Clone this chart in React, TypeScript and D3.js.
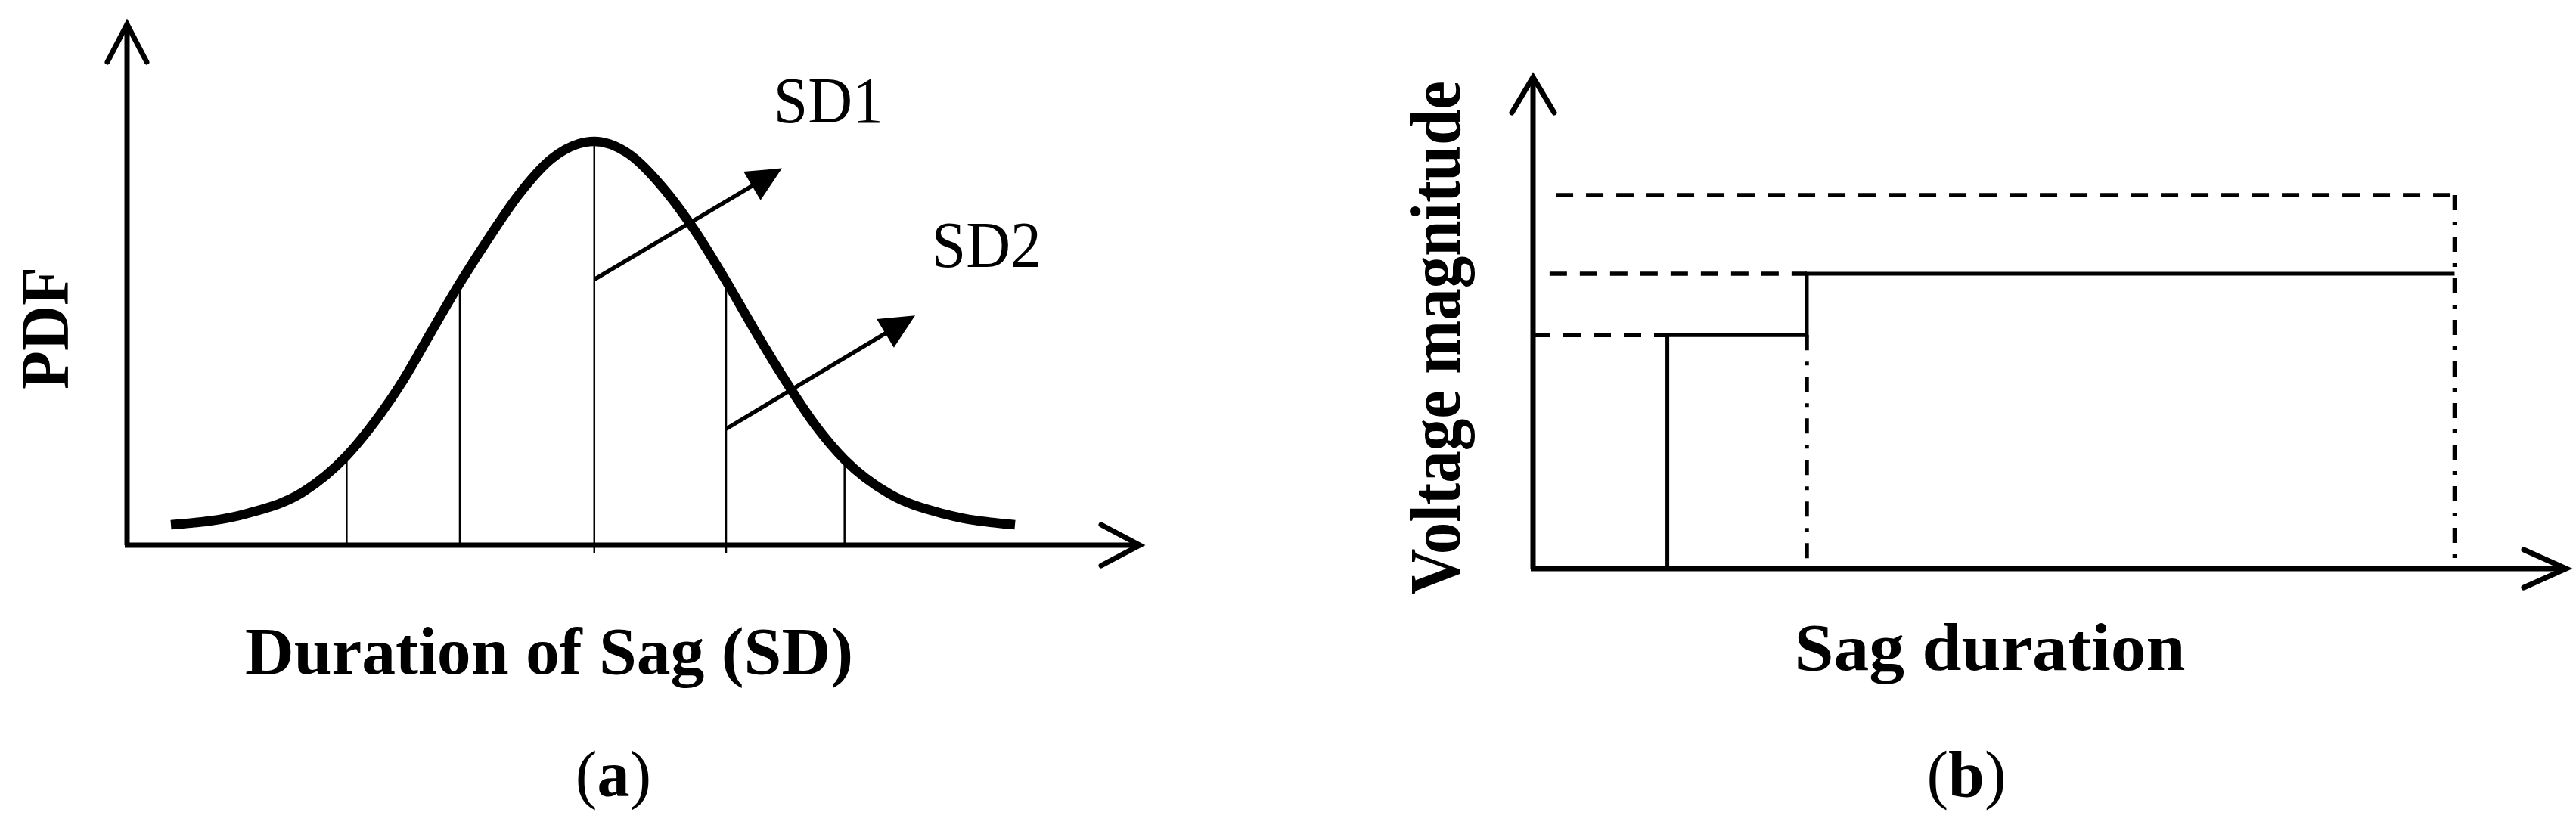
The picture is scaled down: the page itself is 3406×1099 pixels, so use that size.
import {useEffect, useRef} from 'react'
import * as d3 from 'd3'

// (a) bell curve of sag duration, x in SD units from the mean, y as share of the peak
const curveX = [-3.18, -2.6, -2.19, -1.86, -1.69, -1.43, -1.23, -1.01, -0.77, -0.57, -0.32, 0, 0.24, 0.55, 0.75, 1.0, 1.2, 1.41, 1.66, 1.88, 2.22, 2.63, 3.16]
const pdfValues = [0, 0.03, 0.085, 0.18, 0.25, 0.38, 0.5, 0.63, 0.76, 0.86, 0.955, 1, 0.972, 0.865, 0.77, 0.63, 0.51, 0.39, 0.26, 0.17, 0.08, 0.028, 0]

// vertical class boundaries under the curve
const boundaryX = [-1.86, -1.01, 0, 0.99, 1.88]
const boundaryTop = [0.18, 0.63, 1, 0.63, 0.17]
const boundaryBelow = [false, false, true, true, false]

// SD arrows: start, tip, label position
const sdLabels = ['SD1', 'SD2']
const sdFrom = [[0, 0.64], [0.99, 0.25]]
const sdTo = [[1.41, 0.93], [2.41, 0.546]]
const sdText = [[1.347, 1.049], [2.534, 0.673]]

// (b) step of voltage magnitude against sag duration
const durations = [0.13, 0.265, 0.892]
const magnitudes = [0.475, 0.6, 0.76]
const guideStart = [0, 0.016, 0.022]

const W = 3406
const H = 1099
const FONT = '"Liberation Serif", "Times New Roman", serif'

function App(){
    const svg = useRef(null)

    useEffect(() => {
        const svgRef = d3.select(svg.current)
        svgRef.selectAll('*').remove()

        svgRef.append('rect').attr('width', W).attr('height', H).attr('fill', 'white')

        //Open chevron arrowhead for the axes
        const chevron = (g, tip, dir, len, half) => {
            const [tx, ty] = tip
            const [dx, dy] = dir
            const px = -dy, py = dx
            const p = d3.path()
            p.moveTo(tx - dx * len + px * half, ty - dy * len + py * half)
            p.lineTo(tx, ty)
            p.lineTo(tx - dx * len - px * half, ty - dy * len - py * half)
            g.append('path')
                .attr('d', p.toString())
                .attr('fill', 'none')
                .attr('stroke', 'black')
                .attr('stroke-width', 7)
                .attr('stroke-linecap', 'round')
                .attr('stroke-linejoin', 'miter')
        }

        const axes = (g, ox, oy, yTip, xTip, yHead, xHead) => {
            g.append('line').attr('x1', ox).attr('y1', oy).attr('x2', ox).attr('y2', yTip + 3)
                .attr('stroke', 'black').attr('stroke-width', 7)
            g.append('line').attr('x1', ox - 3).attr('y1', oy).attr('x2', xTip - 3).attr('y2', oy)
                .attr('stroke', 'black').attr('stroke-width', 7)
            chevron(g, [ox, yTip], [0, -1], yHead[0], yHead[1])
            chevron(g, [xTip, oy], [1, 0], xHead[0], xHead[1])
        }

        // ---------- panel (a) ----------
        const xA = d3.scaleLinear().domain([-3.18, 3.16]).range([226, 1342])
        const yA = d3.scaleLinear().domain([0, 1]).range([694, 187])
        const gA = svgRef.append('g')
        const axisYA = 721

        //Boundary lines
        boundaryX.forEach((bx, i) => {
            gA.append('line')
                .attr('x1', xA(bx)).attr('x2', xA(bx))
                .attr('y1', boundaryBelow[i] ? axisYA + 10 : axisYA)
                .attr('y2', yA(boundaryTop[i]))
                .attr('stroke', 'black')
                .attr('stroke-width', 2.5)
        })

        axes(gA, 168, axisYA, 32, 1507, [50, 26], [51, 27])

        //Bell curve
        const line = d3.line()
            .x((d, i) => xA(curveX[i]))
            .y(d => yA(d))
            .curve(d3.curveMonotoneX)
        gA.append('path')
            .attr('d', line(pdfValues))
            .attr('fill', 'none')
            .attr('stroke', 'black')
            .attr('stroke-width', 12.5)
            .attr('stroke-linejoin', 'round')

        //SD arrows with filled heads
        sdLabels.forEach((label, i) => {
            const x1 = xA(sdFrom[i][0]), y1 = yA(sdFrom[i][1])
            const x2 = xA(sdTo[i][0]), y2 = yA(sdTo[i][1])
            const ang = Math.atan2(y2 - y1, x2 - x1)
            const headLen = 46, headHalf = 22
            const bx = x2 - Math.cos(ang) * headLen
            const by = y2 - Math.sin(ang) * headLen
            gA.append('line')
                .attr('x1', x1).attr('y1', y1)
                .attr('x2', bx + Math.cos(ang) * 4).attr('y2', by + Math.sin(ang) * 4)
                .attr('stroke', 'black').attr('stroke-width', 5.5)
            const nx = -Math.sin(ang), ny = Math.cos(ang)
            gA.append('polygon')
                .attr('points', [[x2, y2], [bx + nx * headHalf, by + ny * headHalf], [bx - nx * headHalf, by - ny * headHalf]].map(p => p.join(',')).join(' '))
                .attr('fill', 'black')
            gA.append('text')
                .attr('x', xA(sdText[i][0]))
                .attr('y', yA(sdText[i][1]))
                .attr('font-family', FONT)
                .attr('font-size', 86)
                .attr('textLength', 145)
                .attr('lengthAdjust', 'spacingAndGlyphs')
                .text(label)
        })

        //Axis titles
        gA.append('text')
            .attr('transform', 'translate(90,434) rotate(-90)')
            .attr('text-anchor', 'middle')
            .attr('font-family', FONT)
            .attr('font-weight', 'bold')
            .attr('font-size', 90)
            .attr('textLength', 162)
            .attr('lengthAdjust', 'spacingAndGlyphs')
            .text('PDF')
        gA.append('text')
            .attr('x', 726).attr('y', 891)
            .attr('text-anchor', 'middle')
            .attr('font-family', FONT)
            .attr('font-weight', 'bold')
            .attr('font-size', 88)
            .attr('textLength', 804)
            .attr('lengthAdjust', 'spacingAndGlyphs')
            .text('Duration of Sag (SD)')

        // ---------- panel (b) ----------
        const xB = d3.scaleLinear().domain([0, 1]).range([2027, 3393])
        const yB = d3.scaleLinear().domain([0, 1]).range([752, 102])
        const gB = svgRef.append('g')

        //Dashed guides to the magnitude axis
        const guideEnd = [durations[0], durations[1], durations[2]]
        magnitudes.forEach((m, i) => {
            gB.append('line')
                .attr('x1', xB(guideStart[i])).attr('x2', xB(guideEnd[i]))
                .attr('y1', yB(m)).attr('y2', yB(m))
                .attr('stroke', 'black').attr('stroke-width', 5.5)
                .attr('stroke-dasharray', '23,17')
        })

        //Dash-dot drops to the duration axis
        const drops = [[durations[1], magnitudes[0]], [durations[2], magnitudes[2]]]
        drops.forEach(([dx, m]) => {
            gB.append('line')
                .attr('x1', xB(dx)).attr('x2', xB(dx))
                .attr('y1', yB(m)).attr('y2', yB(0))
                .attr('stroke', 'black').attr('stroke-width', 5.5)
                .attr('stroke-dasharray', '20,15,5,15')
        })

        //Solid step
        const steps = [
            [durations[0], 0],
            [durations[0], magnitudes[0]],
            [durations[1], magnitudes[0]],
            [durations[1], magnitudes[1]],
            [durations[2], magnitudes[1]],
        ]
        gB.append('path')
            .attr('d', d3.line().x(d => xB(d[0])).y(d => yB(d[1]))(steps))
            .attr('fill', 'none')
            .attr('stroke', 'black')
            .attr('stroke-width', 5)
            .attr('stroke-linejoin', 'miter')

        axes(gB, xB(0), yB(0), yB(1), xB(1), [47, 28], [56, 25])

        gB.append('text')
            .attr('transform', 'translate(1930,447) rotate(-90)')
            .attr('text-anchor', 'middle')
            .attr('font-family', FONT)
            .attr('font-weight', 'bold')
            .attr('font-size', 95)
            .attr('textLength', 680)
            .attr('lengthAdjust', 'spacingAndGlyphs')
            .text('Voltage magnitude')
        gB.append('text')
            .attr('x', 2631).attr('y', 886)
            .attr('text-anchor', 'middle')
            .attr('font-family', FONT)
            .attr('font-weight', 'bold')
            .attr('font-size', 88)
            .attr('textLength', 517)
            .attr('lengthAdjust', 'spacingAndGlyphs')
            .text('Sag duration')

        // ---------- sub-captions ----------
        const captions = [['a', 811], ['b', 2600]]
        captions.forEach(([c, cx]) => {
            const t = svgRef.append('text')
                .attr('x', cx).attr('y', 1053)
                .attr('text-anchor', 'middle')
                .attr('font-family', FONT)
                .attr('font-size', 86)
            t.append('tspan').text('(')
            t.append('tspan').attr('font-weight', 'bold').text(c)
            t.append('tspan').text(')')
        })
    }, [])

    return(
        <svg ref={svg} width={W} height={H} style={{position: 'absolute', left: 0, top: 0}}></svg>
    )
}

export default App
